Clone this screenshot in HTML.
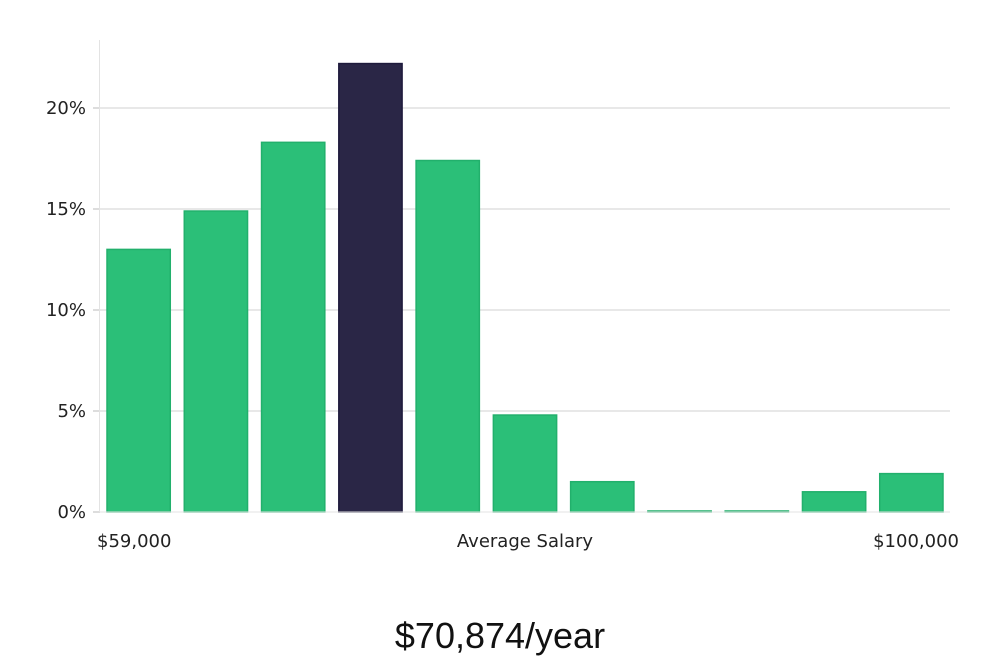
<!DOCTYPE html>
<html><head><meta charset="utf-8"><style>
body{margin:0;background:#fff;width:1000px;height:660px;overflow:hidden;font-family:"DejaVu Sans","Liberation Sans",sans-serif}
</style></head><body>
<svg id="chart" width="1000" height="660" xmlns="http://www.w3.org/2000/svg"></svg>
<script>
const categories=["b1","b2","b3","b4","b5","b6","b7","b8","b9","b10","b11"];
const values=[13.0,14.9,18.3,22.2,17.4,4.8,1.5,0.05,0.05,1.0,1.9];
const highlight=[false,false,false,true,false,false,false,false,false,false,false];
const yTicks=[0,5,10,15,20];
const yTickLabels=["0%","5%","10%","15%","20%"];
const svg=document.getElementById('chart');
const NS="http://www.w3.org/2000/svg";
const x0=100,x1=950,yBase=512,pxPer=20.2;
const band=(x1-x0)/categories.length;
const y=v=>yBase-v*pxPer;
function mk(t,a){const e=document.createElementNS(NS,t);for(const k in a)e.setAttribute(k,a[k]);svg.appendChild(e);return e;}
yTicks.forEach((t,i)=>{
 if(t>0){const g=mk('line',{x1:x0,x2:x1,y1:y(t),y2:y(t),stroke:'#e0e0e0','stroke-width':1.5});
 }
 const tk=mk('line',{x1:x0-7,x2:x0,y1:y(t),y2:y(t),stroke:'#bbb','stroke-width':1});
 
 const l=mk('text',{x:x0-14,y:y(t)+6,'text-anchor':'end','font-size':18,fill:'#222'});
 l.textContent=yTickLabels[i];
 
});
const ax=mk('line',{x1:x0-0.5,x2:x0-0.5,y1:40,y2:yBase,stroke:'#e3e3e3','stroke-width':1});

values.forEach((v,i)=>{
 const r=mk('rect',{x:x0+i*band+7,y:y(v),width:band-14,height:Math.max(1,v*pxPer),
  fill:highlight[i]?'#2a2646':'#2bbf78',stroke:highlight[i]?'#1e1a3c':'#22b06c','stroke-width':1.5});
 
});
const bl=mk('line',{x1:x0,x2:x1,y1:yBase,y2:yBase,stroke:'#e3e3e3','stroke-width':1});

[["$59,000",97,'start','x-label-min'],["Average Salary",525,'middle','x-axis-title'],["$100,000",959,'end','x-label-max']].forEach(d=>{
 const t=mk('text',{x:d[1],y:547,'text-anchor':d[2],'font-size':18,fill:'#222'});
 t.textContent=d[0];
});
const tt=mk('text',{x:500,y:648,'text-anchor':'middle','font-size':36,fill:'#111','font-family':'Liberation Sans, sans-serif'});
tt.textContent="$70,874/year";

</script>
</body></html>
